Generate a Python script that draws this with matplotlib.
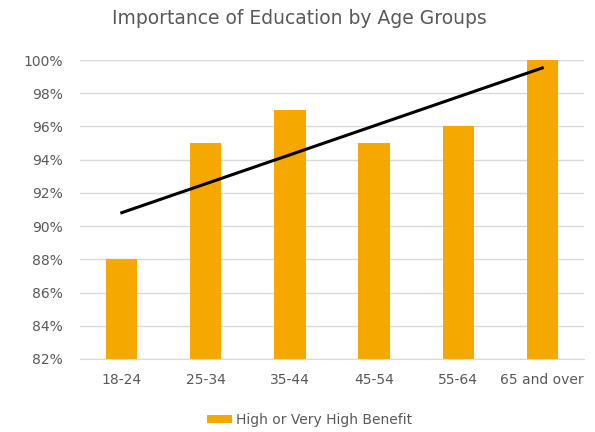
import matplotlib.pyplot as plt
import numpy as np
from matplotlib.ticker import FuncFormatter

# Chart data
age_groups = ['18-24', '25-34', '35-44', '45-54', '55-64', '65 and over']
benefit_pct = [88, 95, 97, 95, 96, 100]

bar_color = '#F5A800'
text_color = '#595959'

fig = plt.figure(figsize=(5.95, 4.32), dpi=100)
ax = fig.add_axes([0.134, 0.169, 0.848, 0.692])

x = np.arange(len(age_groups))
ax.bar(x, benefit_pct, width=0.37, color=bar_color, zorder=2,
       label='High or Very High Benefit')

# Linear trendline fitted on the bar values
slope, intercept = np.polyfit(x, benefit_pct, 1)
ax.plot(x, slope * x + intercept, color='black', lw=2.2, zorder=3)

ax.set_xlim(-0.5, len(age_groups) - 0.5)
ax.set_ylim(82, 100)
ax.set_yticks(np.arange(82, 101, 2))
ax.yaxis.set_major_formatter(FuncFormatter(lambda v, p: f'{v:.0f}%'))
ax.set_xticks(x)
ax.set_xticklabels(age_groups)

ax.grid(axis='y', color='#D9D9D9', lw=1, zorder=0)
for side in ['top', 'right', 'left']:
    ax.spines[side].set_visible(False)
ax.spines['bottom'].set_color('#D9D9D9')
ax.tick_params(length=0, colors=text_color, labelsize=10)
ax.tick_params(axis='x', pad=10)
ax.tick_params(axis='y', pad=12)

fig.text(0.503, 0.958, 'Importance of Education by Age Groups', ha='center',
         va='center', fontsize=13.5, color=text_color)

fig.legend(loc='center', bbox_to_anchor=(0.52, 0.028), frameon=False,
           fontsize=10, labelcolor=text_color, handlelength=1.8,
           handleheight=0.6, handletextpad=0.3)

fig.savefig('out.png', dpi=100)
